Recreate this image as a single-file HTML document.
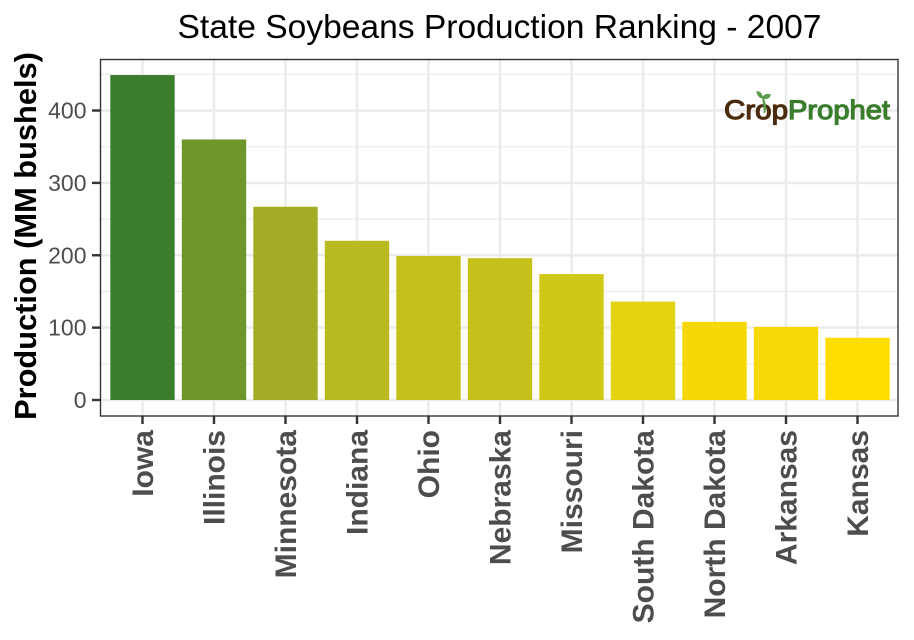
<!DOCTYPE html>
<html>
<head>
<meta charset="utf-8">
<style>
html,body{margin:0;padding:0;background:#fff;}
svg{display:block;}
text{font-family:"Liberation Sans",sans-serif;}
</style>
</head>
<body>
<svg id="chart" xmlns="http://www.w3.org/2000/svg" width="914" height="640" viewBox="0 0 914 640">
<rect width="914" height="640" fill="#fff"/>
<text x="499.5" y="38" text-anchor="middle" font-size="33.6" fill="#000">State Soybeans Production Ranking - 2007</text>
<text transform="translate(36,236) rotate(-90)" text-anchor="middle" font-size="30.8" font-weight="bold" fill="#000">Production (MM bushels)</text>
<g id="grid"></g>
<g id="bars"></g>
<g id="logo">
<text x="724" y="119" font-size="27" fill="#4a2c0c" stroke="#4a2c0c" stroke-width="1.2" textLength="64" lengthAdjust="spacingAndGlyphs">Crop</text>
<text x="788" y="119" font-size="27" fill="#3a7d2c" stroke="#3a7d2c" stroke-width="1.2" textLength="102" lengthAdjust="spacingAndGlyphs">Prophet</text>
<path d="M764 113 C767 108 765 102 762 96 M762 98 C759 97 758 95 757 92 C760 92 762 94 762 98 M763 98 C764 95 767 94 770 95 C769 98 766 99 763 98" stroke="#5a9a48" stroke-width="1.4" fill="#5a9a48"/>
</g>
<rect x="100.5" y="59.5" width="797.5" height="356.5" fill="none" stroke="#333" stroke-width="1.4"/>
<g id="axes"></g>
</svg>
<script>
var categories = ["Iowa","Illinois","Minnesota","Indiana","Ohio","Nebraska","Missouri","South Dakota","North Dakota","Arkansas","Kansas"];
var production = [449,360,267,220,199,196,174,136,108,101,86];
var yTicks = [0,100,200,300,400];
var yMinorTicks = [50,150,250,350,450];

var NS = "http://www.w3.org/2000/svg";
function yScale(v){ return 400 - v * 0.7237; }
function xScale(i){ return 142.5 + i * 71.5; }
function hex(c){ return "rgb(" + c.map(Math.round).join(",") + ")"; }
function fillScale(v){
  var s = [[86,[255,221,0]],[136,[229,211,15]],[199,[195,192,28]],[267,[162,173,37]],[360,[110,150,43]],[449,[58,125,44]]];
  if (v <= s[0][0]) return hex(s[0][1]);
  for (var k = 1; k < s.length; k++) {
    if (v <= s[k][0]) {
      var t = (v - s[k-1][0]) / (s[k][0] - s[k-1][0]);
      return hex(s[k-1][1].map(function(a, j){ return a + (s[k][1][j] - a) * t; }));
    }
  }
  return hex(s[s.length-1][1]);
}
function make(tag, attrs, parent){
  var el = document.createElementNS(NS, tag);
  for (var a in attrs) el.setAttribute(a, attrs[a]);
  parent.appendChild(el);
  return el;
}
var grid = document.getElementById("grid");
var barsG = document.getElementById("bars");
var axes = document.getElementById("axes");

yMinorTicks.forEach(function(v){
  var l = make("line", {x1:101, x2:898, y1:yScale(v), y2:yScale(v), stroke:"#ededed", "stroke-width":1.4}, grid);
  
  
});
yTicks.forEach(function(v){
  var y = yScale(v);
  var l = make("line", {x1:101, x2:898, y1:y, y2:y, stroke:"#ebebeb", "stroke-width":2.6}, grid);
  
  
  var t = make("line", {x1:92, x2:100, y1:y, y2:y, stroke:"#333", "stroke-width":2.4}, axes);
  
  
  var lb = make("text", {x:86.5, y:y + 8, "text-anchor":"end", "font-size":"23", fill:"#4d4d4d"}, axes);
  
  
  lb.textContent = v;
});
categories.forEach(function(c, i){
  var x = xScale(i);
  var l = make("line", {x1:x, x2:x, y1:60, y2:416, stroke:"#ebebeb", "stroke-width":2.6}, grid);
  
  
  var y = yScale(production[i]);
  var b = make("rect", {x:x - 32.2, y:y, width:64.4, height:yScale(0) - y, fill:fillScale(production[i])}, barsG);
  
  
  var t = make("line", {x1:x, x2:x, y1:416, y2:424, stroke:"#333", "stroke-width":2.4}, axes);
  
  
  var lb = make("text", {transform:"translate(" + (x + 10.5) + ",430) rotate(-90)", "text-anchor":"end", "font-size":"30", "font-weight":"bold", fill:"#4d4d4d"}, axes);
  
  
  lb.textContent = c;
});
</script>
</body>
</html>
